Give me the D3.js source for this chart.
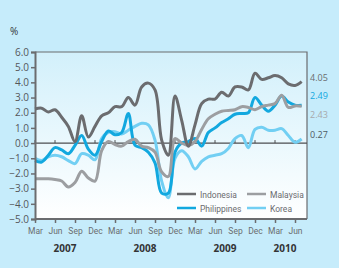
<!DOCTYPE html>
<html>
<head>
<meta charset="utf-8">
<script src="https://cdn.jsdelivr.net/npm/d3@7"></script>
<style>
  body { margin: 0; background: #c6ecfb; }
  svg { display: block; font-family: "Open Sans", "DejaVu Sans", sans-serif; }
</style>
</head>
<body>
<script>
// monthly values, Mar 2007 .. Jul 2010
var indonesia = [2.25, 2.3, 2.05, 2.2, 1.7, 1.1, 0.1, 1.8, 0.4, 1.1,
  1.8, 2.0, 2.4, 2.4, 3.0, 2.5, 3.7, 3.95, 3.5, 0.2, -0.8, 3.1,
  1.5, -0.2, 1.2, 2.6, 2.9, 2.9, 3.35, 3.1, 3.7, 3.7, 3.5, 4.6,
  4.2, 4.3, 4.45, 4.3, 3.9, 3.8, 4.05];
var malaysia = [-2.35, -2.35, -2.35, -2.4, -2.5, -2.9, -2.6, -1.85, -2.3, -2.5,
  -0.5, 0.1, -0.1, -0.2, 0.1, 0.25, -0.2, -0.3, -0.6, -1.9, -2.2, 0.3,
  0.0, -0.15, 0.1, 0.9, 1.6, 1.9, 2.1, 2.15, 2.2, 2.4, 2.35, 2.2,
  2.4, 2.5, 2.6, 3.15, 2.35, 2.45, 2.43];
var philippines = [-1.15, -1.25, -0.8, -0.3, -0.45, -0.7, -0.15, 0.5, -0.4, -0.8,
  0.1, 0.8, 0.55, 0.7, 1.95, -0.15, -0.3, -0.6, -1.3, -3.3, -3.3, -0.6,
  0.0, 0.1, 0.3, -0.2, 0.7, 1.0, 1.35, 1.6, 1.9, 1.95, 2.0, 3.0,
  2.5, 2.1, 2.5, 3.1, 2.7, 2.5, 2.49];
var korea = [-1.0, -1.15, -0.9, -0.8, -0.9, -1.15, -1.35, -0.7, -0.8, -1.1,
  0.3, 0.7, 0.75, 0.6, 0.85, 1.1, 1.3, 1.2, 0.2, -2.5, -3.6, -1.0,
  -0.5, -0.9, -1.7, -1.2, -0.9, -0.8, -0.7, -0.35, 0.3, 0.5, -0.3, 0.9,
  1.05, 0.85, 0.85, 0.95, 0.5, 0.05, 0.27];

var monthLabels = ["Mar", "Jun", "Sep", "Dec", "Mar", "Jun", "Sep", "Dec",
  "Mar", "Jun", "Sep", "Dec", "Mar", "Jun"];
var years = ["2007", "2008", "2009", "2010"];
var yTicks = [6, 5, 4, 3, 2, 1, 0, -1, -2, -3, -4, -5];
var endLabels = ["4.05", "2.49", "2.43", "0.27"];

var series = [
  {name: "Korea", values: korea, color: "#72cff3"},
  {name: "Philippines", values: philippines, color: "#12a8df"},
  {name: "Malaysia", values: malaysia, color: "#9c9ea1"},
  {name: "Indonesia", values: indonesia, color: "#6b6c6f"}
];

var W = 339, H = 268;
var pl = 35, pr = 307, pt = 52, pb = 219;

var x = d3.scaleLinear().domain([0, 40.8]).range([pl, pr]);
var y = d3.scaleLinear().domain([-5, 6]).range([pb, pt]);

var svg = d3.select("body").append("svg")
  .attr("width", W)
  .attr("height", H);

var grad = svg.append("defs").append("linearGradient")
  .attr("id", "bg").attr("x1", 0).attr("y1", 0).attr("x2", 0).attr("y2", 1);
grad.append("stop").attr("offset", "0%").attr("stop-color", "#d2f0fb");
grad.append("stop").attr("offset", "100%").attr("stop-color", "#ffffff");

svg.append("rect")
  .attr("x", pl).attr("y", pt)
  .attr("width", pr - pl).attr("height", pb - pt)
  .attr("fill", "url(#bg)");

// top and right frame
svg.append("path")
  .attr("d", "M" + pl + "," + pt + "H" + pr + "V" + pb)
  .attr("fill", "none")
  .attr("stroke", "#6b6c6f")
  .attr("stroke-width", 1.2);

// zero line with ticks pointing up
var tickIdx = d3.range(0, 40, 3);
svg.append("line")
  .attr("x1", pl).attr("x2", pr)
  .attr("y1", y(0)).attr("y2", y(0))
  .attr("stroke", "#4d4e51").attr("stroke-width", 1.2);
svg.selectAll(".zt")
  .data(tickIdx)
  .enter().append("line")
  .attr("x1", function(d){ return x(d); })
  .attr("x2", function(d){ return x(d); })
  .attr("y1", y(0)).attr("y2", y(0) - 3)
  .attr("stroke", "#4d4e51").attr("stroke-width", 1);

// lines
var line = d3.line()
  .x(function(d, i){ return x(i); })
  .y(function(d){ return y(d); })
  .curve(d3.curveCatmullRom.alpha(0.5));

svg.selectAll(".series")
  .data(series)
  .enter().append("path")
  .attr("class", "series")
  .attr("d", function(d){ return line(d.values); })
  .attr("fill", "none")
  .attr("stroke", function(d){ return d.color; })
  .attr("stroke-width", 3)
  .attr("stroke-linejoin", "round");

// left axis
var yAxis = svg.append("g")
  .attr("transform", "translate(" + pl + ",0)")
  .call(d3.axisLeft(y).tickValues(yTicks).tickFormat(d3.format(".1f")).tickSize(4).tickPadding(2));
yAxis.select(".domain").attr("stroke", "#6b6c6f").attr("stroke-width", 2);
yAxis.selectAll(".tick line").attr("stroke", "#6b6c6f").attr("stroke-width", 1.5);
yAxis.selectAll("text")
  .attr("fill", "#55565a")
  .style("font-size", "10px")
  .style("font-family", "'Open Sans', sans-serif");

// bottom axis
var xAxis = svg.append("g")
  .attr("transform", "translate(0," + pb + ")")
  .call(d3.axisBottom(x).tickValues(tickIdx)
    .tickFormat(function(d, i){ return monthLabels[i]; })
    .tickSize(4).tickPadding(5));
xAxis.select(".domain").attr("d", "M" + pl + ",0H" + pr).attr("stroke", "#6b6c6f").attr("stroke-width", 2);
xAxis.selectAll(".tick line").attr("stroke", "#6b6c6f").attr("stroke-width", 1.5);
xAxis.selectAll("text")
  .attr("fill", "#6b6c6f")
  .style("font-size", "8.5px")
  .style("font-family", "Roboto, sans-serif");

// years, centred under their month ticks
svg.selectAll(".year")
  .data(years)
  .enter().append("text")
  .attr("class", "year")
  .attr("x", function(d, i){
    var t = tickIdx.filter(function(v, k){ return Math.floor(k / 4) === i; });
    return x(d3.mean(t));
  })
  .attr("y", 252)
  .attr("text-anchor", "middle")
  .attr("fill", "#333436")
  .style("font-size", "10px")
  .style("font-weight", "bold")
  .text(function(d){ return d; });

// "%"
svg.append("text")
  .attr("x", 10).attr("y", 35)
  .attr("fill", "#333436")
  .style("font-size", "10px")
  .text("%");

// end labels (outside right border)
var labelColors = ["#6b6c6f", "#12a8df", "#a7a9ac", "#4d5a62"];
svg.selectAll(".endlab")
  .data(endLabels)
  .enter().append("text")
  .attr("class", "endlab")
  .attr("x", 310)
  .attr("y", function(d, i){ return [81, 99, 118, 138][i]; })
  .attr("fill", function(d, i){ return labelColors[i]; })
  .style("font-size", "9px")
  .text(function(d){ return d; });

// legend
var legend = [
  {name: "Indonesia", color: "#6b6c6f", col: 0, row: 0},
  {name: "Malaysia", color: "#9c9ea1", col: 1, row: 0},
  {name: "Philippines", color: "#12a8df", col: 0, row: 1},
  {name: "Korea", color: "#72cff3", col: 1, row: 1}
];
var lg = svg.selectAll(".lg")
  .data(legend)
  .enter().append("g")
  .attr("transform", function(d){
    return "translate(" + (177 + d.col * 70) + "," + (194 + d.row * 14) + ")";
  });
lg.append("line")
  .attr("x1", 0).attr("x2", 19)
  .attr("stroke", function(d){ return d.color; })
  .attr("stroke-width", 2.5);
lg.append("text")
  .attr("x", 23).attr("y", 3.5)
  .attr("fill", "#6b6c6f")
  .style("font-size", "8.5px")
  .style("font-family", "Roboto, sans-serif")
  .text(function(d){ return d.name; });
</script>
</body>
</html>
